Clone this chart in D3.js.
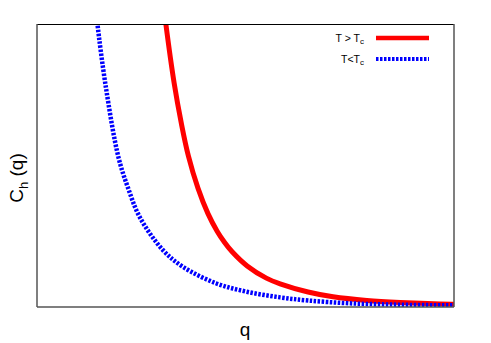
<!DOCTYPE html>
<html>
<head>
	<title>C_h(q)</title>
	<script type="text/javascript" src="https://d3js.org/d3.v7.min.js"></script>
	<style>
		body { margin: 0; background: #fff; }
		text { font-family: "Liberation Sans", Arial, sans-serif; }
	</style>
</head>
<body>
	<script type="text/javascript">
		// values (q and C_h are in arbitrary units, 0..1)
		var qAbove = [0.305, 0.309, 0.329, 0.346, 0.363, 0.386, 0.410, 0.432, 0.450, 0.468, 0.504, 0.550, 0.583, 0.650, 0.710, 0.791, 0.871, 0.995, 1.0];
		var cAbove = [1.05, 1.000, 0.790, 0.650, 0.534, 0.420, 0.330, 0.268, 0.228, 0.195, 0.145, 0.102, 0.082, 0.053, 0.036, 0.023, 0.016, 0.010, 0.010];

		var qBelow = [0.142, 0.145, 0.165, 0.195, 0.218, 0.247, 0.302, 0.350, 0.429, 0.503, 0.583, 0.650, 0.751, 0.871, 0.995, 1.0];
		var cBelow = [1.05, 1.000, 0.778, 0.531, 0.422, 0.316, 0.201, 0.142, 0.084, 0.054, 0.034, 0.023, 0.013, 0.008, 0.006, 0.006];

		var seriesNames = ["T > T", "T<T"];
		var seriesColors = ["#ff0000", "#0000ff"];

		var width = 491, height = 343;
		var pLeft = 37, pRight = 454, pTop = 24, pBottom = 307;

		var svg = d3.select("body").append("svg").attr("width", width).attr("height", height);

		var x = d3.scaleLinear().domain([0, 1]).range([pLeft, pRight]);
		var y = d3.scaleLinear().domain([0, 1]).range([pBottom, pTop]);

		svg.append("clipPath").attr("id", "plotclip")
			.append("rect")
			.attr("x", pLeft).attr("y", pTop)
			.attr("width", pRight - pLeft).attr("height", pBottom - pTop);

		var line = d3.line()
			.x(function (d) { return x(d[0]); })
			.y(function (d) { return y(d[1]); })
			.curve(d3.curveCatmullRom.alpha(0.5));

		var above = d3.zip(qAbove, cAbove);
		var below = d3.zip(qBelow, cBelow);

		var plot = svg.append("g").attr("clip-path", "url(#plotclip)");

		plot.append("path")
			.attr("d", line(above))
			.attr("fill", "none")
			.attr("stroke", seriesColors[0])
			.attr("stroke-width", 5);

		plot.append("path")
			.attr("d", line(below))
			.attr("fill", "none")
			.attr("stroke", seriesColors[1])
			.attr("stroke-width", 4.5)
			.attr("stroke-dasharray", "2.5,1.5");

		// frame
		svg.append("line").attr("x1", pLeft).attr("x2", pRight).attr("y1", pTop + 0.5).attr("y2", pTop + 0.5)
			.attr("stroke", "#000").attr("stroke-width", 1);
		svg.append("line").attr("x1", pLeft).attr("x2", pLeft).attr("y1", pTop).attr("y2", pBottom)
			.attr("stroke", "#555").attr("stroke-width", 1.5);
		svg.append("line").attr("x1", pRight).attr("x2", pRight).attr("y1", pTop).attr("y2", pBottom)
			.attr("stroke", "#555").attr("stroke-width", 1.5);
		svg.append("line").attr("x1", pLeft).attr("x2", pRight).attr("y1", pBottom).attr("y2", pBottom)
			.attr("stroke", "#555").attr("stroke-width", 1.5);

		// legend
		var legend = svg.append("g");
		var legendY = [38, 59];
		seriesNames.forEach(function (name, i) {
			var t = legend.append("text")
				.attr("x", 364).attr("y", legendY[i] + 3.5)
				.attr("text-anchor", "end")
				.attr("font-size", 10.5);
			t.append("tspan").text(name);
			t.append("tspan").attr("font-size", 8).attr("dy", 2.5).text("c");
			legend.append("line")
				.attr("x1", 376).attr("x2", 429)
				.attr("y1", legendY[i]).attr("y2", legendY[i])
				.attr("stroke", seriesColors[i])
				.attr("stroke-width", i == 0 ? 4.5 : 4)
				.attr("stroke-dasharray", i == 0 ? null : "2.5,1.5");
		});

		// axis labels
		svg.append("text")
			.attr("x", 245).attr("y", 336)
			.attr("text-anchor", "middle")
			.attr("font-size", 19)
			.text("q");

		var yl = svg.append("text")
			.attr("transform", "translate(23,178) rotate(-90)")
			.attr("text-anchor", "middle")
			.attr("font-size", 19);
		yl.append("tspan").text("C");
		yl.append("tspan").attr("font-size", 13).attr("dy", 5).text("h");
		yl.append("tspan").attr("dy", -5).text(" (q)");
	</script>
</body>
</html>
